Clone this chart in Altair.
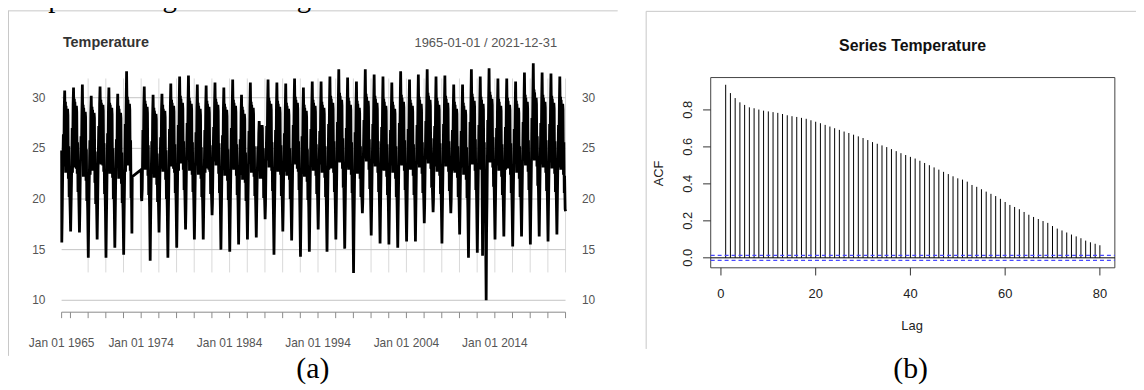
import altair as alt
import pandas as pd

# ---------------- Panel (a): daily temperature, 1965-2021 ----------------
years = list(range(1965, 2022))
# one value per year for each point in the seasonal cycle (None = no data, 1973)
trough_jan = [15.7, 16.8, 16.7, 14.2, 16.0, 14.2, 15.2, 14.5, None, 20.2,
              13.9, 16.7, 14.2, 15.2, 17.0, 16.0, 16.0, 18.4, 15.0, 14.8,
              15.5, 16.0, 16.2, 18.0, 14.5, 16.8, 15.9, 14.3, 14.8, 17.0,
              14.8, 16.0, 15.1, 12.7, 18.6, 16.4, 15.6, 15.5, 15.2, 15.8,
              15.8, 17.6, 18.7, 15.6, 18.6, 16.5, 14.2, 14.7, 10.0, 16.0,
              16.3, 15.3, 16.3, 15.5, 16.3, 15.8, 16.5]
cold_jan = [18.3, 19.0, 18.8, 17.6, 18.6, 17.5, 18.0, 17.8, None, 19.8,
            17.4, 18.9, 17.7, 18.2, 19.1, 18.6, 18.5, 19.6, 18.1, 17.9,
            18.3, 18.7, 18.8, 19.4, 17.8, 19.0, 18.6, 17.6, 17.9, 19.2,
            17.9, 18.7, 18.1, 16.8, 19.7, 18.9, 18.5, 18.4, 18.2, 18.6,
            18.7, 19.4, 19.9, 18.5, 19.8, 19.1, 17.7, 18.0, 16.5, 18.9,
            19.0, 18.3, 19.0, 18.6, 19.1, 18.7, 19.2]
rise_feb = [22.5, 21.8, 23.0, 21.5, 22.8, 21.2, 22.0, 21.6, None, 21.0,
            21.4, 22.6, 21.3, 22.1, 23.2, 22.4, 22.0, 23.5, 21.8, 21.5,
            22.2, 22.6, 22.0, 23.4, 21.2, 22.9, 22.3, 21.4, 21.9, 23.1,
            21.7, 22.5, 22.0, 20.8, 23.6, 22.7, 22.1, 22.4, 21.9, 22.2,
            22.6, 23.3, 23.8, 22.0, 23.5, 22.8, 21.6, 21.9, 20.5, 22.6,
            22.9, 22.1, 22.8, 22.3, 22.9, 22.5, 23.0]
warm_mar = [26.4, 27.0, 26.2, 25.8, 27.2, 26.5, 25.9, 27.4, None, 26.8,
            25.7, 26.1, 26.9, 27.3, 27.5, 26.6, 26.8, 27.1, 26.3, 27.0,
            25.9, 26.7, 25.2, 27.2, 26.8, 26.5, 27.3, 26.2, 26.9, 26.7,
            27.4, 27.6, 27.0, 26.6, 27.8, 27.4, 27.1, 26.8, 27.5, 26.9,
            27.3, 27.7, 27.2, 27.4, 26.8, 26.7, 27.6, 27.3, 27.8, 27.0,
            27.1, 26.9, 27.6, 28.0, 27.5, 27.4, 27.3]
dip_mar = [23.2, 22.6, 23.8, 22.4, 23.5, 22.9, 23.1, 22.7, None, 23.4,
           22.5, 23.0, 23.6, 22.8, 23.9, 23.3, 22.6, 23.7, 22.9, 23.1,
           22.4, 23.5, 22.8, 23.8, 23.0, 22.7, 23.6, 22.5, 23.2, 23.4,
           22.9, 23.7, 23.1, 22.6, 24.0, 23.5, 22.9, 23.3, 23.8, 23.0,
           23.4, 23.9, 23.2, 23.6, 22.8, 23.1, 23.7, 23.0, 24.1, 23.3,
           22.9, 23.5, 23.8, 24.2, 23.4, 23.6, 23.1]
dip_apr = [24.2, 24.8, 25.1, 23.7, 24.5, 24.9, 23.9, 25.4, None, 24.6,
           23.8, 24.1, 24.7, 25.2, 25.5, 24.4, 24.6, 25.0, 24.3, 24.9,
           23.9, 24.8, 24.0, 25.1, 24.5, 24.7, 25.2, 24.1, 24.8, 24.6,
           25.3, 25.6, 25.0, 24.7, 25.7, 25.4, 25.1, 24.9, 25.5, 24.8,
           25.2, 25.6, 25.3, 25.4, 24.7, 24.6, 25.6, 25.2, 25.8, 25.0,
           25.1, 24.8, 25.5, 26.0, 25.4, 25.3, 25.2]
high_apr = [29.0, 29.3, 28.7, 28.5, 29.4, 29.1, 28.6, 29.5, None, 29.2,
            28.4, 28.8, 29.3, 29.6, 29.5, 29.0, 29.2, 29.4, 28.9, 29.3,
            28.5, 29.1, 26.5, 29.5, 29.2, 29.0, 29.6, 28.8, 29.3, 29.1,
            29.6, 29.9, 29.4, 29.1, 29.8, 29.6, 29.3, 29.0, 29.7, 29.3,
            29.5, 29.9, 29.4, 29.6, 29.0, 28.9, 29.8, 29.5, 30.0, 29.3,
            29.4, 29.1, 29.7, 30.2, 29.7, 29.6, 29.5]
peak_may = [30.7, 31.0, 31.3, 30.2, 31.1, 31.0, 30.4, 32.6, None, 31.1,
            30.3, 30.4, 31.4, 32.1, 32.2, 31.3, 31.2, 31.5, 31.0, 31.8,
            30.3, 31.5, 27.7, 31.8, 31.5, 31.4, 31.9, 31.0, 31.6, 31.6,
            32.1, 32.8, 32.0, 31.6, 32.8, 32.3, 32.1, 31.5, 32.6, 31.8,
            32.3, 32.8, 32.1, 32.2, 31.3, 31.3, 32.8, 32.1, 32.9, 31.9,
            31.9, 31.6, 32.5, 33.4, 32.5, 32.4, 32.1]
early_jun = [26.8, 27.2, 26.5, 26.9, 27.4, 26.7, 26.3, 27.6, None, 27.0,
             26.4, 26.6, 27.1, 27.5, 27.3, 26.9, 27.0, 27.2, 26.6, 27.3,
             26.2, 27.0, 26.0, 27.4, 27.1, 26.8, 27.5, 26.7, 27.1, 27.0,
             27.4, 27.7, 27.3, 26.9, 27.8, 27.5, 27.2, 27.0, 27.6, 27.2,
             27.4, 27.8, 27.3, 27.5, 27.0, 26.9, 27.7, 27.4, 27.9, 27.2,
             27.3, 27.0, 27.6, 28.0, 27.5, 27.4, 27.3]
high_jun = [29.6, 29.9, 29.3, 29.1, 29.8, 29.5, 29.2, 30.1, None, 29.7,
            29.0, 29.3, 29.8, 30.2, 30.0, 29.5, 29.7, 29.9, 29.4, 29.8,
            29.1, 29.6, 26.9, 30.0, 29.7, 29.5, 30.1, 29.3, 29.8, 29.6,
            30.2, 30.5, 30.0, 29.7, 30.4, 30.2, 29.9, 29.6, 30.3, 29.8,
            30.1, 30.5, 30.0, 30.2, 29.6, 29.5, 30.4, 30.1, 30.6, 29.9,
            30.0, 29.7, 30.3, 30.8, 30.3, 30.2, 30.1]
dip_jun = [22.6, 23.1, 22.2, 22.8, 23.4, 22.5, 22.0, 23.3, None, 22.9,
           22.1, 22.7, 23.2, 23.5, 22.8, 22.4, 23.0, 23.3, 22.3, 22.9,
           21.9, 22.6, 22.0, 23.1, 22.7, 22.3, 23.4, 22.2, 22.8, 22.6,
           23.0, 23.6, 22.9, 22.5, 23.7, 23.2, 22.8, 22.6, 23.3, 22.9,
           23.1, 23.5, 22.7, 23.2, 22.6, 22.4, 23.4, 22.9, 23.6, 22.8,
           23.0, 22.6, 23.3, 23.8, 23.1, 23.0, 22.9]
high_jul = [29.2, 29.6, 29.0, 28.8, 29.5, 29.3, 28.9, 29.8, None, 29.4,
            28.7, 28.9, 29.5, 29.9, 29.7, 29.2, 29.4, 29.6, 29.1, 29.5,
            28.8, 29.3, 26.8, 29.7, 29.4, 29.2, 29.8, 29.0, 29.5, 29.3,
            29.9, 30.2, 29.7, 29.4, 30.1, 29.9, 29.6, 29.3, 30.0, 29.5,
            29.8, 30.2, 29.7, 29.9, 29.3, 29.2, 30.1, 29.8, 30.3, 29.6,
            29.7, 29.4, 30.0, 30.5, 30.0, 29.9, 29.8]
mid_aug = [26.6, 26.9, 26.3, 26.5, 27.0, 26.4, 26.2, 27.1, None, 26.7,
           26.1, 26.3, 26.8, 27.2, 27.0, 26.6, 26.8, 26.9, 26.4, 27.0,
           26.0, 26.7, 26.2, 27.1, 26.8, 26.5, 27.2, 26.4, 26.9, 26.7,
           27.1, 27.4, 27.0, 26.6, 27.5, 27.2, 26.9, 26.7, 27.3, 26.9,
           27.1, 27.5, 27.0, 27.2, 26.7, 26.6, 27.4, 14.4, 27.6, 26.9,
           27.0, 26.7, 27.3, 27.7, 27.2, 27.1, 27.0]
dip_aug = [23.5, 23.0, 23.8, 22.9, 23.3, 23.6, 22.7, 23.9, None, 23.2,
           22.8, 23.4, 23.0, 23.7, 23.5, 23.1, 22.9, 23.6, 23.3, 23.0,
           22.6, 23.4, 22.9, 23.8, 23.2, 23.5, 23.0, 22.8, 23.6, 23.3,
           23.7, 24.0, 23.4, 23.1, 23.9, 23.6, 23.2, 23.5, 23.8, 23.3,
           23.6, 24.1, 23.5, 23.7, 23.0, 23.2, 23.9, 23.4, 24.2, 23.5,
           23.3, 23.1, 23.8, 24.3, 23.6, 23.7, 23.4]
high_sep2 = [28.9, 29.2, 28.6, 28.5, 29.3, 29.0, 28.5, 29.4, None, 29.1,
             28.4, 28.7, 29.2, 29.5, 29.4, 28.9, 29.1, 29.3, 28.8, 29.2,
             28.4, 29.0, 27.3, 29.4, 29.1, 28.9, 29.5, 28.7, 29.2, 29.0,
             29.5, 29.8, 29.3, 29.0, 29.7, 29.5, 29.2, 28.9, 29.6, 29.2,
             29.4, 29.8, 29.3, 29.5, 28.9, 28.8, 29.7, 29.4, 29.9, 29.2,
             29.3, 29.0, 29.6, 30.0, 29.6, 29.5, 29.4]
high_sep = [28.3, 28.6, 28.1, 28.0, 28.7, 28.4, 28.0, 28.8, None, 28.5,
            27.9, 28.1, 28.6, 28.9, 28.8, 28.3, 28.5, 28.7, 28.2, 28.6,
            27.9, 28.4, 27.0, 28.8, 28.5, 28.3, 28.9, 28.1, 28.6, 28.4,
            28.9, 29.2, 28.8, 28.5, 29.1, 28.9, 28.7, 28.4, 29.0, 28.6,
            28.8, 29.2, 28.8, 28.9, 28.4, 28.3, 29.1, 28.8, 29.3, 28.7,
            28.8, 28.5, 29.0, 29.4, 29.0, 28.9, 28.8]
dip_oct = [22.0, 22.5, 21.8, 21.6, 22.7, 22.1, 21.5, 22.8, None, 22.3,
           21.4, 21.9, 22.6, 22.9, 22.4, 22.0, 22.7, 22.5, 21.8, 22.3,
           21.6, 22.2, 22.0, 22.8, 22.4, 21.9, 22.7, 21.7, 22.3, 22.1,
           22.6, 23.0, 22.4, 22.0, 22.9, 22.6, 22.2, 22.0, 22.8, 22.3,
           22.5, 23.0, 22.3, 22.7, 22.1, 21.9, 22.8, 22.4, 23.1, 22.2,
           22.4, 22.0, 22.7, 23.2, 22.6, 22.5, 22.4]
fall_oct = [25.2, 25.6, 24.9, 24.7, 25.5, 25.0, 24.6, 25.8, None, 25.3,
            24.5, 24.8, 25.4, 25.7, 25.6, 25.1, 25.3, 25.5, 24.9, 25.4,
            24.6, 25.2, 25.0, 25.6, 25.3, 25.0, 25.7, 24.9, 25.4, 25.2,
            25.7, 26.0, 25.6, 25.2, 25.9, 25.7, 25.4, 25.2, 25.8, 25.4,
            25.6, 26.0, 25.5, 25.7, 25.2, 25.1, 25.9, 25.6, 26.1, 25.4,
            25.5, 25.2, 25.8, 26.2, 25.8, 25.7, 25.6]
low_nov = [20.2, 20.7, 19.8, 19.5, 20.5, 20.0, 19.6, 20.1, None, 20.4,
           19.7, 20.0, 20.6, 20.9, 20.7, 20.2, 20.5, 20.6, 19.9, 20.4,
           19.8, 20.3, 20.1, 20.8, 20.3, 20.0, 20.9, 19.9, 20.5, 20.2,
           20.7, 21.1, 20.6, 20.2, 21.0, 20.7, 20.4, 20.2, 20.9, 20.4,
           20.6, 21.1, 20.5, 20.8, 20.2, 20.1, 20.9, 20.6, 21.2, 20.4,
           20.6, 20.2, 20.9, 21.3, 20.8, 20.7, 20.6]
fall_nov = [21.8, 22.4, 21.5, 21.2, 22.2, 21.6, 21.1, 21.5, None, 22.0,
            21.3, 21.6, 22.1, 22.5, 22.3, 21.8, 22.0, 22.2, 21.6, 22.1,
            21.4, 21.9, 21.7, 22.4, 22.0, 21.7, 22.5, 21.6, 22.1, 21.9,
            22.4, 22.8, 22.3, 21.9, 22.7, 22.4, 22.1, 21.9, 22.6, 22.1,
            22.3, 22.8, 22.2, 22.5, 21.9, 21.8, 22.6, 22.3, 22.9, 22.1,
            22.3, 21.9, 22.6, 23.0, 22.5, 22.4, 22.3]
cool_dec = [19.4, 19.9, 18.8, 19.6, 19.1, 19.5, 18.9, 16.6, None, 19.2,
            19.7, 18.9, 19.5, 20.1, 19.8, 19.6, 20.4, 19.3, 19.0, 19.6,
            19.8, 19.5, 20.3, 18.9, 20.0, 19.6, 18.8, 19.2, 20.2, 19.0,
            19.7, 19.3, 18.5, 20.4, 19.9, 19.4, 19.6, 19.1, 19.5, 19.8,
            20.3, 20.6, 19.4, 20.5, 19.9, 18.9, 19.2, 17.0, 19.7, 19.9,
            19.3, 19.8, 19.5, 19.9, 19.7, 20.2, 19.0]
cycle_days = ["01-08", "01-24", "02-14", "03-14", "03-26", "04-04", "04-20",
              "05-08", "06-02", "06-10", "06-18", "07-02", "08-12", "08-28",
              "09-04", "09-18", "10-06", "10-22", "11-08", "11-22", "12-14"]
extra_dates = ["1965-01-01", "1972-12-28", "1974-01-01", "2021-12-31"]
extra_temps = [24.8, 22.2, 22.9, 18.8]

ya_ticks = [10, 15, 20, 25, 30]
xa_label_years = [1965, 1974, 1984, 1994, 2004, 2014]

# ---------------- Panel (b): ACF ----------------
lags = list(range(1, 81))
acf_values = [0.936, 0.891, 0.864, 0.841, 0.827, 0.814, 0.809, 0.802, 0.796, 0.792,
              0.788, 0.784, 0.778, 0.771, 0.766, 0.762, 0.757, 0.752, 0.744, 0.736,
              0.728, 0.719, 0.710, 0.701, 0.692, 0.683, 0.675, 0.666, 0.657, 0.648,
              0.637, 0.626, 0.617, 0.608, 0.599, 0.588, 0.577, 0.566, 0.556, 0.546,
              0.537, 0.525, 0.513, 0.501, 0.489, 0.477, 0.465, 0.453, 0.441, 0.430,
              0.423, 0.412, 0.394, 0.384, 0.371, 0.358, 0.346, 0.334, 0.319, 0.302,
              0.286, 0.275, 0.263, 0.248, 0.233, 0.221, 0.210, 0.199, 0.189, 0.172,
              0.158, 0.148, 0.137, 0.126, 0.116, 0.106, 0.093, 0.084, 0.076, 0.068]
ci_bound = 0.0136
xb_ticks = [0, 20, 40, 60, 80]
yb_ticks = [0.0, 0.2, 0.4, 0.6, 0.8]

# ---------------- build tables ----------------
cycle_arrays = [trough_jan, cold_jan, rise_feb, warm_mar, dip_mar, dip_apr, high_apr,
                peak_may, early_jun, high_jun, dip_jun, high_jul, mid_aug, dip_aug,
                high_sep2, high_sep, dip_oct, fall_oct, low_nov, fall_nov, cool_dec]
rows = []
for i, yr in enumerate(years):
    for md, arr in zip(cycle_days, cycle_arrays):
        v = arr[i]
        if v is not None:
            rows.append({"date": f"{yr}-{md}", "temp": v})
for d, v in zip(extra_dates, extra_temps):
    rows.append({"date": d, "temp": v})
temp_df = pd.DataFrame(rows).sort_values("date").reset_index(drop=True)

acf_df = pd.DataFrame({"lag": lags, "acf": acf_values})
one = pd.DataFrame({"k": [0]})

FONT = "Liberation Sans"
SERIF = "Liberation Serif"
W, H = 1136, 382

D0 = alt.DateTime(year=1965, month=1, date=1, utc=True)
D1 = alt.DateTime(year=2021, month=12, date=31, utc=True)
xa = alt.Scale(type="utc", domain=[D0, D1], range=[54, 561.5])
ya = alt.Scale(domain=[10, 30], range=[293, 89], zero=False, nice=False)
xb = alt.Scale(domain=[-2.16, 83.16], range=[707.7, 1114.7], zero=False, nice=False)
yb = alt.Scale(domain=[-0.054, 0.975], range=[260.3, 68.7], zero=False, nice=False)

tick_dates = ["1965-01-01"] + [f"{y}-01-01" for y in range(1966, 2021, 2)] + ["2021-12-31"]
vgrid_dates = [f"{y}-01-01" for y in range(1968, 2021, 2)] + ["2021-12-31"]

layers = []

# frames
layers.append(alt.Chart(one).mark_rule(color="#c8c8c8").encode(
    x=alt.value(0), x2=alt.value(614), y=alt.value(1.5)))
layers.append(alt.Chart(one).mark_rule(color="#c8c8c8").encode(
    x=alt.value(0.5), y=alt.value(1.5), y2=alt.value(349)))
layers.append(alt.Chart(one).mark_rule(color="#c8c8c8").encode(
    x=alt.value(642.7), x2=alt.value(W), y=alt.value(2)))
layers.append(alt.Chart(one).mark_rule(color="#c8c8c8").encode(
    x=alt.value(642.7), y=alt.value(2), y2=alt.value(342)))

# panel (a) grid
layers.append(alt.Chart(pd.DataFrame({"date": vgrid_dates})).mark_rule(
    color="#d9d9d9", strokeWidth=1).encode(
    x=alt.X("date:T", scale=xa, axis=None),
    y=alt.YDatum(12.75, type="quantitative", scale=ya, axis=None),
    y2=alt.Y2Datum(31.9)))
layers.append(alt.Chart(pd.DataFrame({"t": ya_ticks})).mark_rule(
    color="#c4c4c4", strokeWidth=1).encode(
    y=alt.Y("t:Q", scale=ya, axis=None),
    x=alt.XDatum(D0, type="temporal", scale=xa, axis=None),
    x2=alt.X2Datum(D1)))

# panel (a) series
layers.append(alt.Chart(temp_df).mark_line(color="black", strokeWidth=2.8).encode(
    x=alt.X("date:T", scale=xa, axis=None),
    y=alt.Y("temp:Q", scale=ya, axis=None)))

# panel (a) x axis
layers.append(alt.Chart(one).mark_rule(color="#8a8a8a").encode(
    x=alt.XDatum(D0, type="temporal", scale=xa, axis=None),
    x2=alt.X2Datum(D1), y=alt.value(305)))
layers.append(alt.Chart(pd.DataFrame({"date": tick_dates})).mark_rule(color="#8a8a8a").encode(
    x=alt.X("date:T", scale=xa, axis=None), y=alt.value(305), y2=alt.value(311)))
layers.append(alt.Chart(pd.DataFrame({
    "date": [f"{y}-01-01" for y in xa_label_years],
    "label": [f"Jan 01 {y}" for y in xa_label_years]})).mark_text(
    font=FONT, fontSize=12, color="#555555", align="center", baseline="alphabetic").encode(
    x=alt.X("date:T", scale=xa, axis=None), y=alt.value(340), text="label:N"))

# panel (a) y labels (left and right)
layers.append(alt.Chart(pd.DataFrame({"t": ya_ticks})).mark_text(
    font=FONT, fontSize=12, color="#555555", align="right", baseline="middle").encode(
    y=alt.Y("t:Q", scale=ya, axis=None), x=alt.value(37.7), text="t:Q"))
layers.append(alt.Chart(pd.DataFrame({"t": ya_ticks})).mark_text(
    font=FONT, fontSize=12, color="#555555", align="left", baseline="middle").encode(
    y=alt.Y("t:Q", scale=ya, axis=None), x=alt.value(578), text="t:Q"))

# panel (a) titles
layers.append(alt.Chart(one).mark_text(
    text="Temperature", font=FONT, fontSize=14.5, fontWeight="bold", color="#333333",
    align="left", baseline="middle").encode(x=alt.value(55.3), y=alt.value(33.7)))
layers.append(alt.Chart(one).mark_text(
    text="1965-01-01 / 2021-12-31", font=FONT, fontSize=13, color="#555555",
    align="right", baseline="middle").encode(x=alt.value(553), y=alt.value(33.7)))

# panel (b) box, bars, zero line, CI
layers.append(alt.Chart(one).mark_rect(fillOpacity=0, stroke="#444444", strokeWidth=1).encode(
    x=alt.XDatum(-2.16, type="quantitative", scale=xb, axis=None), x2=alt.X2Datum(83.16),
    y=alt.YDatum(-0.054, type="quantitative", scale=yb, axis=None), y2=alt.Y2Datum(0.975)))
layers.append(alt.Chart(acf_df).mark_rule(color="black", strokeWidth=1).encode(
    x=alt.X("lag:Q", scale=xb, axis=None),
    y=alt.Y("acf:Q", scale=yb, axis=None),
    y2=alt.Y2Datum(0)))
layers.append(alt.Chart(one).mark_rule(color="black", strokeWidth=1).encode(
    x=alt.XDatum(-2.16, type="quantitative", scale=xb, axis=None), x2=alt.X2Datum(83.16),
    y=alt.YDatum(0, type="quantitative", scale=yb, axis=None)))
layers.append(alt.Chart(pd.DataFrame({"ci": [ci_bound, -ci_bound]})).mark_rule(
    color="#4848ff", strokeWidth=1.3, strokeDash=[4, 3]).encode(
    x=alt.XDatum(-2.16, type="quantitative", scale=xb, axis=None), x2=alt.X2Datum(83.16),
    y=alt.Y("ci:Q", scale=yb, axis=None)))

# panel (b) axes
layers.append(alt.Chart(pd.DataFrame({"v": xb_ticks})).mark_rule(color="#333333").encode(
    x=alt.X("v:Q", scale=xb, axis=None), y=alt.value(260.3), y2=alt.value(268)))
layers.append(alt.Chart(pd.DataFrame({"v": yb_ticks})).mark_rule(color="#333333").encode(
    y=alt.Y("v:Q", scale=yb, axis=None), x=alt.value(700), x2=alt.value(707.7)))
layers.append(alt.Chart(pd.DataFrame({"v": xb_ticks})).mark_text(
    font=FONT, fontSize=13, color="#222222", align="center", baseline="alphabetic").encode(
    x=alt.X("v:Q", scale=xb, axis=None), y=alt.value(290.3), text="v:Q"))
layers.append(alt.Chart(pd.DataFrame({"v": yb_ticks})).mark_text(
    font=FONT, fontSize=13, color="#222222", align="center", baseline="alphabetic",
    angle=270).encode(
    y=alt.Y("v:Q", scale=yb, axis=None), x=alt.value(689),
    text=alt.Text("v:Q", format=".1f")))
layers.append(alt.Chart(one).mark_text(
    text="Lag", font=FONT, fontSize=13, color="#222222", align="center",
    baseline="alphabetic").encode(x=alt.value(910.5), y=alt.value(323)))
layers.append(alt.Chart(one).mark_text(
    text="ACF", font=FONT, fontSize=13, color="#222222", align="center",
    baseline="alphabetic", angle=270).encode(x=alt.value(659.3), y=alt.value(165.3)))
layers.append(alt.Chart(one).mark_text(
    text="Series Temperature", font=FONT, fontSize=16, fontWeight="bold", color="#111111",
    align="center", baseline="middle").encode(x=alt.value(911), y=alt.value(37)))

# captions and the sentence above the figure (cut at the top, as in the reference)
layers.append(alt.Chart(one).mark_text(
    text="(a)", font=SERIF, fontSize=30, color="black", align="center",
    baseline="alphabetic").encode(x=alt.value(307), y=alt.value(371.5)))
layers.append(alt.Chart(one).mark_text(
    text="(b)", font=SERIF, fontSize=30, color="black", align="center",
    baseline="alphabetic").encode(x=alt.value(909), y=alt.value(371.5)))
layers.append(alt.Chart(one).mark_text(
    text="temperature against time gives us a clear indication of the trend.",
    font=SERIF, fontSize=29, color="black", align="left",
    baseline="alphabetic").encode(x=alt.value(-3), y=alt.value(-2.5)))

chart = alt.layer(*layers).resolve_scale(x="independent", y="independent").properties(
    width=W, height=H, padding=0, background="white",
    autosize=alt.AutoSizeParams(type="none"),
).configure_view(stroke="transparent")

chart.save("out.html", embed_options={"renderer": "svg", "actions": False})
